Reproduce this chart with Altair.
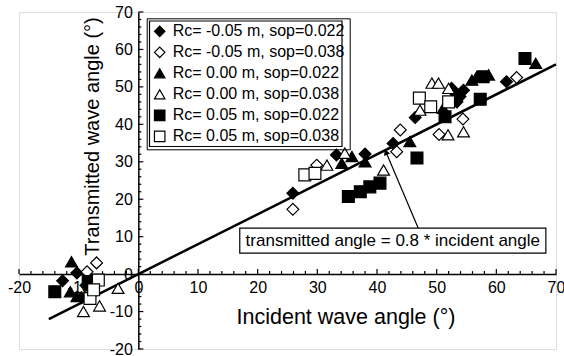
import altair as alt
import pandas as pd

FONT = "Liberation Sans"

# ---------------- data ----------------
series_names = [
    "Rc= -0.05 m, sop=0.022",
    "Rc= -0.05 m, sop=0.038",
    "Rc= 0.00 m, sop=0.022",
    "Rc= 0.00 m, sop=0.038",
    "Rc= 0.05 m, sop=0.022",
    "Rc= 0.05 m, sop=0.038",
]
series_shapes = ["diamond", "diamond", "triangle-up", "triangle-up", "square", "square"]
series_fills = ["black", "white", "black", "white", "black", "white"]
series_strokes = ["black"] * 6

s1_x = [-12.7, -10.3, -9.5, -8.8, 25.9, 33.2, 38.0, 42.7, 46.4, 52.5, 53.1, 53.9, 53.4, 54.5, 61.7]
s1_y = [-1.8, 0.3, -6.3, -3.0, 21.6, 31.8, 32.1, 34.9, 41.8, 49.6, 48.3, 47.4, 46.0, 49.1, 51.4]

s2_x = [-7.0, -8.6, 25.9, 29.9, 43.3, 43.9, 50.4, 54.4, 63.4]
s2_y = [3.0, 0.6, 17.3, 29.1, 32.7, 38.5, 37.3, 41.4, 52.5]

s3_x = [-11.2, -11.4, -10.3, 34.1, 35.8, 38.0, 45.5, 51.1, 55.9, 56.7, 58.7, 66.6]
s3_y = [3.3, -4.7, -6.0, 29.6, 31.4, 30.0, 35.4, 44.3, 51.8, 52.7, 53.2, 56.3]

s4_x = [-3.4, -9.2, -6.5, 31.6, 34.6, 41.1, 47.2, 49.2, 50.3, 52.0, 51.9, 54.5]
s4_y = [-3.8, -10.0, -8.5, 29.1, 32.3, 27.8, 43.8, 51.0, 51.0, 49.6, 37.2, 38.0]

s5_x = [-14.0, -8.4, 35.2, 37.2, 38.8, 40.5, 46.7, 51.4, 57.8, 57.3, 64.8]
s5_y = [-4.7, -2.0, 20.7, 22.0, 23.3, 24.3, 31.0, 42.0, 52.7, 46.7, 57.6]

s6_x = [-6.7, -8.1, -7.5, 27.9, 29.6, 47.1, 49.0, 52.0]
s6_y = [-1.6, -6.5, -4.2, 26.5, 26.9, 47.0, 44.7, 46.0]

fit_x = [-15, 70]
fit_y = [-12, 56]

note_text = "transmitted angle = 0.8 * incident angle"
note_box = {"x": 17.0, "x2": 68.3, "y": 5.6, "y2": 12.3}
arrow_tail = (46.9, 12.3)
arrow_tip = (41.5, 32.6)

x_title = "Incident wave angle (°)"
y_title = "Transmitted wave angle (°)"
domain = [-20, 70]
major_ticks = list(range(-20, 71, 10))
minor_ticks = [v for v in range(-20, 71, 2) if v % 10 != 0]

# ---------------- layout ----------------
W, H = 537, 337
x0_px = W * (0 - domain[0]) / (domain[1] - domain[0])
y0_px = H * (domain[1] - 0) / (domain[1] - domain[0])

rows = []
for name, xs, ys in zip(series_names, [s1_x, s2_x, s3_x, s4_x, s5_x, s6_x],
                        [s1_y, s2_y, s3_y, s4_y, s5_y, s6_y]):
    for a, b in zip(xs, ys):
        rows.append({"series": name, "x": a, "y": b})
pts = pd.DataFrame(rows)

xscale = alt.Scale(domain=domain, nice=False, zero=False)
yscale = alt.Scale(domain=domain, nice=False, zero=False)

label_axis_common = dict(
    labelFont=FONT, labelFontSize=16, labelColor="black",
    titleFont=FONT, titleFontWeight="normal", titleColor="black",
    ticks=False, grid=False, domainColor="black", domainWidth=1.5,
    labelFlush=False, labelOverlap=False, values=major_ticks,
    labelExpr="'' + datum.value", zindex=0,
)

x_label_axis = alt.Axis(
    orient="bottom", offset=-(H - y0_px), title=x_title, labelPadding=5,
    titleFontSize=21.5, titleX=326.5, titleY=43, titleBaseline="middle", titleAlign="center",
    **label_axis_common,
)
y_label_axis = alt.Axis(
    orient="left", offset=-x0_px, title=y_title, labelPadding=6,
    titleFontSize=20, titleX=-46, titleY=124, titleBaseline="middle", titleAlign="center",
    titleAngle=270,
    **label_axis_common,
)

legend_common = dict(
    title=None, orient="none", legendX=127.7, legendY=6.3,
    strokeColor="black", padding=5, labelLimit=400,
    labelFont=FONT, labelFontSize=16, labelColor="black", symbolSize=110,
    symbolStrokeWidth=1.2, rowPadding=5, labelOffset=5,
    symbolOpacity=1,
)

points = alt.Chart(pts).mark_point(filled=True, size=140, strokeWidth=1.2, opacity=1).encode(
    x=alt.X("x:Q", scale=xscale, axis=x_label_axis),
    y=alt.Y("y:Q", scale=yscale, axis=y_label_axis),
    shape=alt.Shape("series:N", scale=alt.Scale(domain=series_names, range=series_shapes),
                    legend=alt.Legend(**legend_common)),
    fill=alt.Fill("series:N", scale=alt.Scale(domain=series_names, range=series_fills),
                  legend=alt.Legend(**legend_common)),
    stroke=alt.Stroke("series:N", scale=alt.Scale(domain=series_names, range=series_strokes),
                      legend=alt.Legend(**legend_common)),
)

fit = alt.Chart(pd.DataFrame({"x": fit_x, "y": fit_y})).mark_line(
    color="black", strokeWidth=2.5).encode(
    x=alt.X("x:Q", scale=xscale, axis=None),
    y=alt.Y("y:Q", scale=yscale, axis=None),
)

def xticks(values, size):
    return alt.Chart(pd.DataFrame({"v": values})).mark_rule(color="black", strokeWidth=1.2).encode(
        x=alt.X("v:Q", scale=xscale, axis=None),
        y=alt.value(y0_px), y2=alt.value(y0_px - size),
    )

def yticks(values, size):
    return alt.Chart(pd.DataFrame({"v": values})).mark_rule(color="black", strokeWidth=1.2).encode(
        y=alt.Y("v:Q", scale=yscale, axis=None),
        x=alt.value(x0_px), x2=alt.value(x0_px + size),
    )

ticks = [xticks(major_ticks, 5), xticks(minor_ticks, 3),
         yticks(major_ticks, 5), yticks(minor_ticks, 3)]

box = alt.Chart(pd.DataFrame([note_box])).mark_rect(
    fill="white", stroke="black", strokeWidth=1.2).encode(
    x=alt.X("x:Q", scale=xscale, axis=None), x2="x2:Q",
    y=alt.Y("y:Q", scale=yscale, axis=None), y2="y2:Q",
)
note = alt.Chart(pd.DataFrame([{"x": (note_box["x"] + note_box["x2"]) / 2,
                                "y": (note_box["y"] + note_box["y2"]) / 2,
                                "t": note_text}])).mark_text(
    font=FONT, fontSize=17, color="black", baseline="middle", align="center").encode(
    x=alt.X("x:Q", scale=xscale, axis=None),
    y=alt.Y("y:Q", scale=yscale, axis=None),
    text="t:N",
)
arrow = alt.Chart(pd.DataFrame({"x": [arrow_tail[0], arrow_tip[0]],
                                "y": [arrow_tail[1], arrow_tip[1]]})).mark_line(
    color="black", strokeWidth=1.2).encode(
    x=alt.X("x:Q", scale=xscale, axis=None),
    y=alt.Y("y:Q", scale=yscale, axis=None),
)
head = alt.Chart(pd.DataFrame({"x": [arrow_tip[0]], "y": [arrow_tip[1]]})).mark_point(
    shape="triangle-up", filled=True, color="black", size=45, angle=337, opacity=1).encode(
    x=alt.X("x:Q", scale=xscale, axis=None),
    y=alt.Y("y:Q", scale=yscale, axis=None),
)

legend_inner = alt.Chart(pd.DataFrame({"a": [0]})).mark_rect(
    fill=None, stroke="black", strokeWidth=1.2).encode(
    x=alt.value(130.5), x2=alt.value(323), y=alt.value(9), y2=alt.value(134.5),
)

chart = alt.layer(fit, *ticks, points, arrow, head, box, note, legend_inner).resolve_axis(
    x="independent", y="independent"
).properties(
    width=W, height=H, autosize="none",
    padding={"left": 19, "top": 12, "right": 8, "bottom": 7},
).configure_view(stroke="black", strokeWidth=1.5).configure(background="white")

chart.save("out.html", embed_options={"renderer": "svg", "actions": False})
